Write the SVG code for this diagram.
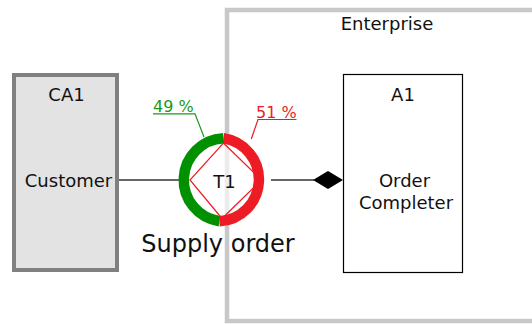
<svg xmlns="http://www.w3.org/2000/svg" width="532" height="324" viewBox="0 0 532 324">
<style>
text{font-family:"DejaVu Sans","Liberation Sans",sans-serif;fill:#111;}
.t18{font-size:18px;text-anchor:middle;}
.conn{stroke:#333;stroke-width:1.4;fill:none;}
.pct{font-size:16px;}
</style>
<rect width="532" height="324" fill="#fff"/>
<g id="enterprise">
<rect x="227" y="10" width="330" height="311" fill="none" stroke="#c8c8c8" stroke-width="4.5"/>
<text class="t18" x="387" y="30">Enterprise</text>
</g>
<g id="CA1">
<rect x="14" y="75" width="103" height="195" fill="#e3e3e3" stroke="#808080" stroke-width="4"/>
<text class="t18" x="66.5" y="100.5">CA1</text>
<text class="t18" x="68.5" y="186.5">Customer</text>
</g>
<g id="A1">
<rect x="343.5" y="74.5" width="119" height="198" fill="#fff" stroke="#000" stroke-width="1.2"/>
<text class="t18" x="403" y="100.5">A1</text>
<text class="t18" x="404.5" y="186.5">Order</text>
<text class="t18" x="406" y="208.5">Completer</text>
</g>
<g id="connectors">
<line class="conn" x1="119" y1="180" x2="180" y2="180"/>
<line class="conn" x1="271" y1="180" x2="314" y2="180"/>
<polygon points="313,180 328,171 343,180 328,189" fill="#000"/>
</g>
<g id="T1">
<circle cx="225.7" cy="180" r="41.7" fill="#fff" fill-opacity="0.65"/>
<path d="M223.3,138.3 A41.7,41.7 0 0 1 219.4,221.2" fill="none" stroke="#ed1c24" stroke-width="10.5"/>
<path d="M219.4,221.2 A41.7,41.7 0 0 1 223.3,138.3" fill="none" stroke="#009000" stroke-width="10.5"/>
<polygon points="223.4,143 261.6,180 222,218.5 190,180" fill="none" stroke="#ed1c24" stroke-width="1.2"/>
<text class="t18" x="224.5" y="187.5">T1</text>
<text x="218" y="251.5" font-size="24" text-anchor="middle">Supply order</text>
</g>
<g id="labels">
<text class="pct" x="153" y="111.5" fill="#1a9a1a" style="fill:#1a9a1a">49 %</text>
<polyline points="153,113.8 195,113.8 204,137" fill="none" stroke="#1a9a1a" stroke-width="1.2"/>
<text class="pct" x="256" y="117.5" style="fill:#ed1c24">51 %</text>
<polyline points="296.5,119.5 258,119.5 251.3,139" fill="none" stroke="#ed1c24" stroke-width="1.2"/>
</g>
</svg>
